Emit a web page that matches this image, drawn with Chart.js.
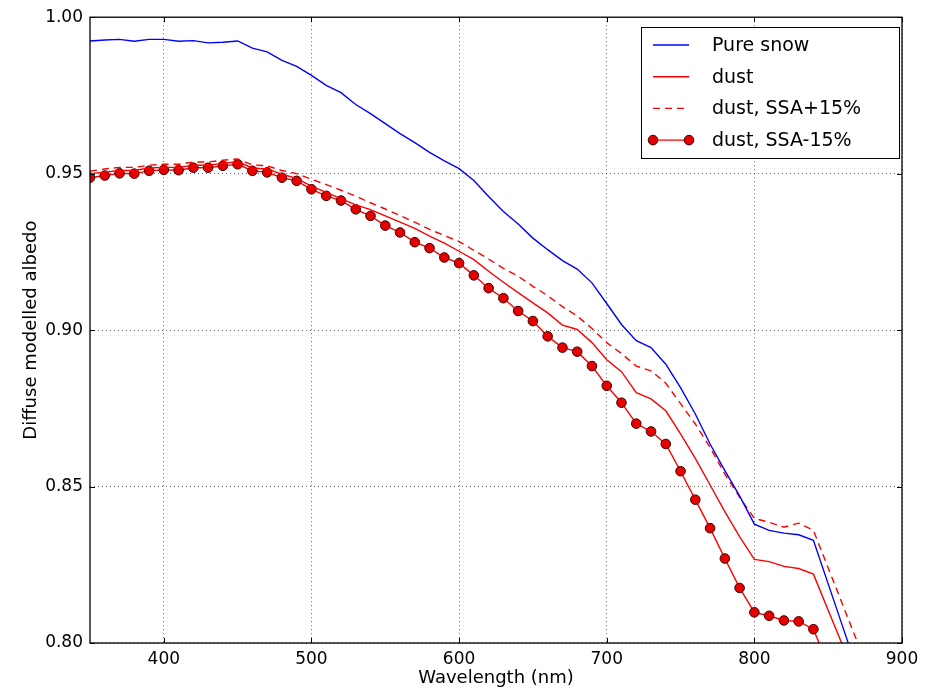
<!DOCTYPE html>
<html>
<head>
<meta charset="utf-8">
<script src="https://cdn.jsdelivr.net/npm/chart.js@4.4.0/dist/chart.umd.min.js"></script>
<style>
  html, body { margin: 0; padding: 0; background: #fff; }
</style>
</head>
<body>
<canvas id="chart" width="934" height="689"></canvas>
<script>
// wavelength grid (nm), 10 nm steps
const wavelengths = [350, 360, 370, 380, 390, 400, 410, 420, 430, 440,
  450, 460, 470, 480, 490, 500, 510, 520, 530, 540,
  550, 560, 570, 580, 590, 600, 610, 620, 630, 640,
  650, 660, 670, 680, 690, 700, 710, 720, 730, 740,
  750, 760, 770, 780, 790, 800, 810, 820, 830, 840,
  850, 860, 870];

const pureSnow = [0.9924, 0.9927, 0.9929, 0.9923, 0.9929, 0.9929, 0.9923, 0.9925, 0.9918, 0.9920,
  0.9924, 0.9901, 0.9889, 0.9862, 0.9843, 0.9814, 0.9782, 0.9759, 0.9721, 0.9692,
  0.9660, 0.9628, 0.9599, 0.9568, 0.9541, 0.9516, 0.9478, 0.9427, 0.9379, 0.9339,
  0.9294, 0.9257, 0.9222, 0.9195, 0.9151, 0.9085, 0.9018, 0.8966, 0.8944, 0.8891,
  0.8816, 0.8732, 0.8636, 0.8551, 0.8470, 0.8380, 0.8360, 0.8351, 0.8346, 0.8328,
  0.8189, 0.8050, 0.7910];

const dust = [0.9500, 0.9505, 0.9510, 0.9510, 0.9518, 0.9520, 0.9520, 0.9527, 0.9527, 0.9533,
  0.9538, 0.9518, 0.9515, 0.9498, 0.9485, 0.9460, 0.9440, 0.9420, 0.9400, 0.9385,
  0.9365, 0.9345, 0.9325, 0.9300, 0.9278, 0.9252, 0.9225, 0.9188, 0.9153, 0.9120,
  0.9087, 0.9055, 0.9016, 0.9002, 0.8960, 0.8905, 0.8867, 0.8800, 0.8780, 0.8742,
  0.8668, 0.8590, 0.8505, 0.8420, 0.8340, 0.8267, 0.8260, 0.8245, 0.8238, 0.8220,
  0.8105, 0.7990];

const dustSsaPlus = [0.9508, 0.9515, 0.9520, 0.9520, 0.9527, 0.9530, 0.9530, 0.9537, 0.9537, 0.9543,
  0.9547, 0.9528, 0.9525, 0.9510, 0.9500, 0.9482, 0.9465, 0.9447, 0.9428, 0.9407,
  0.9387, 0.9366, 0.9345, 0.9322, 0.9302, 0.9283, 0.9255, 0.9227, 0.9197, 0.9172,
  0.9140, 0.9110, 0.9075, 0.9045, 0.9005, 0.8960, 0.8925, 0.8885, 0.8870, 0.8830,
  0.8765, 0.8700, 0.8625, 0.8540, 0.8466, 0.8398, 0.8386, 0.8370, 0.8383, 0.8360,
  0.8240, 0.8120, 0.8000];

const dustSsaMinus = [0.9487, 0.9494, 0.9501, 0.9500, 0.9509, 0.9512, 0.9511, 0.9519, 0.9519, 0.9525,
  0.9530, 0.9509, 0.9504, 0.9487, 0.9477, 0.9450, 0.9429, 0.9414, 0.9386, 0.9365,
  0.9334, 0.9312, 0.9281, 0.9262, 0.9232, 0.9214, 0.9175, 0.9134, 0.9102, 0.9061,
  0.9029, 0.8980, 0.8944, 0.8931, 0.8885, 0.8822, 0.8768, 0.8701, 0.8676, 0.8636,
  0.8549, 0.8458, 0.8367, 0.8270, 0.8176, 0.8098, 0.8087, 0.8072, 0.8069, 0.8044,
  0.7930];

const seriesLabels = ["Pure snow", "dust", "dust, SSA+15%", "dust, SSA-15%"];
const xTicks = [400, 500, 600, 700, 800, 900];
const yTicks = [0.80, 0.85, 0.90, 0.95, 1.00];

function toPoints(values) {
  return values.map((v, i) => ({ x: wavelengths[i], y: v }));
}

Chart.defaults.font.family = "'DejaVu Sans', sans-serif";
Chart.defaults.font.size = 17;
Chart.defaults.color = "#000";

// frame, inward ticks and the matplotlib-like legend box
const frameAndLegend = {
  id: "frameAndLegend",
  afterDatasetsDraw(chart) {
    const ctx = chart.ctx;
    const area = chart.chartArea;
    const xs = chart.scales.x, ys = chart.scales.y;
    ctx.save();
    ctx.strokeStyle = "#000";
    ctx.lineWidth = 1;
    ctx.beginPath();
    xTicks.forEach(v => {
      const px = Math.round(xs.getPixelForValue(v)) + 0.5;
      ctx.moveTo(px, area.bottom); ctx.lineTo(px, area.bottom - 5);
      ctx.moveTo(px, area.top); ctx.lineTo(px, area.top + 5);
    });
    yTicks.forEach(v => {
      const py = Math.round(ys.getPixelForValue(v)) + 0.5;
      ctx.moveTo(area.left, py); ctx.lineTo(area.left + 5, py);
      ctx.moveTo(area.right, py); ctx.lineTo(area.right - 5, py);
    });
    ctx.stroke();
    ctx.lineWidth = 1.3;
    ctx.strokeRect(area.left, area.top, area.right - area.left, area.bottom - area.top);

    // legend
    const bx = 641, by = 27, bw = 258, bh = 131;
    ctx.fillStyle = "#fff";
    ctx.fillRect(bx, by, bw, bh);
    ctx.lineWidth = 1;
    ctx.strokeStyle = "#000";
    ctx.strokeRect(bx + 0.5, by + 0.5, bw, bh);
    ctx.font = "19px 'DejaVu Sans', sans-serif";
    ctx.textBaseline = "middle";
    chart.data.datasets.forEach((ds, i) => {
      const y = 45 + i * 31.7;
      ctx.strokeStyle = ds.borderColor;
      ctx.lineWidth = ds.borderWidth;
      ctx.setLineDash(ds.borderDash || []);
      ctx.beginPath();
      ctx.moveTo(653, y); ctx.lineTo(689, y);
      ctx.stroke();
      ctx.setLineDash([]);
      if (ds.pointRadius > 0) {
        [653, 689].forEach(px => {
          ctx.beginPath();
          ctx.arc(px, y, ds.pointRadius, 0, Math.PI * 2);
          ctx.fillStyle = ds.pointBackgroundColor;
          ctx.fill();
          ctx.lineWidth = ds.pointBorderWidth;
          ctx.strokeStyle = ds.pointBorderColor;
          ctx.stroke();
        });
      }
      ctx.fillStyle = "#000";
      ctx.fillText(seriesLabels[i], 712, y + 1);
    });
    ctx.restore();
  }
};

new Chart(document.getElementById("chart"), {
  type: "line",
  data: {
    datasets: [
      {
        label: seriesLabels[0],
        data: toPoints(pureSnow),
        borderColor: "#0000ff",
        borderWidth: 1.4,
        pointRadius: 0,
        clip: 0
      },
      {
        label: seriesLabels[1],
        data: toPoints(dust),
        borderColor: "#ff0000",
        borderWidth: 1.4,
        pointRadius: 0,
        clip: 0
      },
      {
        label: seriesLabels[2],
        data: toPoints(dustSsaPlus),
        borderColor: "#ff0000",
        borderWidth: 1.4,
        borderDash: [7, 5],
        pointRadius: 0,
        clip: 0
      },
      {
        label: seriesLabels[3],
        data: toPoints(dustSsaMinus),
        borderColor: "#ff0000",
        borderWidth: 1.4,
        pointRadius: 4.8,
        pointBackgroundColor: "#e60000",
        pointBorderColor: "#3a0000",
        pointBorderWidth: 1,
        clip: 0
      }
    ]
  },
  options: {
    responsive: false,
    animation: false,
    layout: { padding: { top: 15, right: 32, left: 0, bottom: 0 } },
    plugins: {
      legend: { display: false },
      tooltip: { enabled: false }
    },
    scales: {
      x: {
        type: "linear",
        min: 350,
        max: 900,
        afterBuildTicks: (scale) => { scale.ticks = xTicks.map(v => ({ value: v })); },
        afterFit: (scale) => { scale.height = 46; },
        ticks: { padding: 6, callback: (v) => String(v) },
        grid: { color: "rgba(0,0,0,0.6)", lineWidth: 1, drawTicks: false },
        border: { display: false, dash: [1, 3] },
        title: { display: true, text: "Wavelength (nm)", font: { size: 18 }, padding: { top: 0, bottom: 0 } }
      },
      y: {
        type: "linear",
        min: 0.80,
        max: 1.00,
        afterBuildTicks: (scale) => { scale.ticks = yTicks.map(v => ({ value: v })); },
        afterFit: (scale) => { scale.width = 90; },
        ticks: { padding: 7, callback: (v) => v.toFixed(2) },
        grid: { color: "rgba(0,0,0,0.6)", lineWidth: 1, drawTicks: false },
        border: { display: false, dash: [1, 3] },
        title: { display: true, text: "Diffuse modelled albedo", font: { size: 18 }, padding: { top: 21, bottom: 0 } }
      }
    }
  },
  plugins: [frameAndLegend]
});
</script>
</body>
</html>
